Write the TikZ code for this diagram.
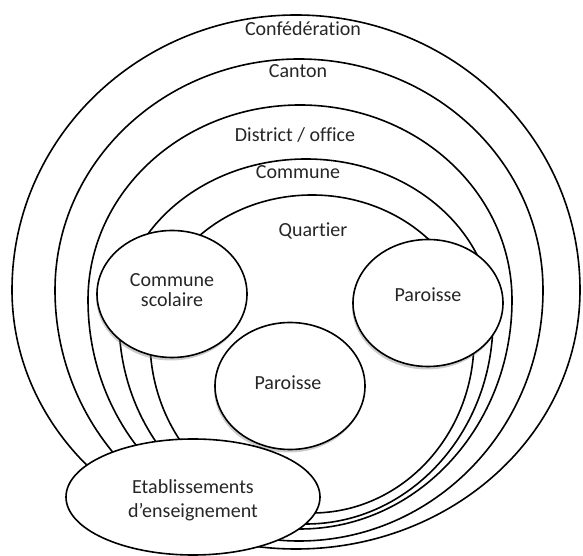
\documentclass[tikz,border=0pt]{standalone}
\usepackage{fontspec}
\setmainfont[Ligatures=NoCommon]{Carlito}
\usetikzlibrary{shapes.geometric, shadows}

\begin{document}
\begin{tikzpicture}[x=1pt, y=1pt,
      ring/.style={draw=black, line width=1.6pt},
      unit/.style={ellipse, draw=black, fill=white, line width=1.6pt, inner sep=0pt},
      parish/.style={unit, minimum width=150pt, minimum height=127pt,
        drop shadow={shadow xshift=-1pt, shadow yshift=-3pt, opacity=0.4}},
      label_text/.style={font=\fontsize{20}{20}\selectfont, text=black!85, align=center}
  ]

  \useasboundingbox (0,0) rectangle (583,556);

  % Draw the nested levels, from the outside in
  \draw[ring] (580,266) arc[start angle=0, end angle=180, x radius=284, y radius=275]
    arc[start angle=180, end angle=360, x radius=284, y radius=259];
  \draw[ring] (543,266) arc[start angle=0, end angle=180, x radius=244, y radius=231]
    arc[start angle=180, end angle=360, x radius=244, y radius=251];
  \draw[ring] (512,256) arc[start angle=0, end angle=180, x radius=212, y radius=195]
    arc[start angle=180, end angle=360, x radius=212, y radius=229];
  \draw[ring] (493,236) arc[start angle=0, end angle=180, x radius=187, y radius=161]
    arc[start angle=180, end angle=360, x radius=187, y radius=204];
  \draw[ring] (474,216) arc[start angle=0, end angle=180, x radius=162, y radius=145]
    arc[start angle=180, end angle=360, x radius=162, y radius=173];

  % Label the levels
  \node[label_text] (conf) at (303,527) {Confédération};
  \node[label_text] (canton) at (298,485) {Canton};
  \node[label_text] (district) at (295,421) {District / office};
  \node[label_text] (commune) at (298,384) {Commune};
  \node[label_text] (quartier) at (313,325) {Quartier};

  % Draw the overlapping units
  \node[parish] (scolaire) at (172,262) {};
  \node[parish] (parR) at (428,253) {};
  \node[parish] (parM) at (290,170) {};
  \node[unit, minimum width=254pt, minimum height=116pt] (etab) at (193,59) {};

  % Label the units
  \node[label_text] (scolaire_text) at ([yshift=4pt]scolaire.center) {Commune\\scolaire};
  \node[label_text] (parR_text) at ([yshift=8pt]parR.center) {Paroisse};
  \node[label_text] (parM_text) at ([xshift=-2pt, yshift=3pt]parM.center) {Paroisse};
  \node[label_text, font=\fontsize{20}{24}\selectfont] (etab_text) at ([yshift=-3pt]etab.center)
    {Etablissements\\d’enseignement};

\end{tikzpicture}
\end{document}
